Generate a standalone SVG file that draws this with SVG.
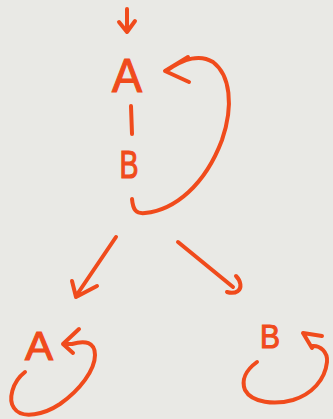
<svg xmlns="http://www.w3.org/2000/svg" width="333" height="419" viewBox="0 0 333 419">
<style>
.ink{fill:none;stroke:#f04b1c;stroke-width:4;stroke-linecap:round;stroke-linejoin:round}
.lbl{font-family:"Liberation Sans",Arial,sans-serif;fill:#f04b1c;stroke:#f04b1c;stroke-width:1.2;text-anchor:middle}
</style>
<rect width="333" height="419" fill="#e9e9e5"/>
<g id="connectors">
<path class="ink" d="M127,9 L127,31 M119,22 L127,32 L135,21"/>
<path class="ink" d="M131,106 L132,134"/>
<path class="ink" d="M132,199 C133,210 136,214 145,213 C175,210 205,185 222,140 C234,105 230,75 213,62 C200,54 185,58 166,71 M188,57 L165,71 L189,82"/>
<path class="ink" d="M116,237 L76,296 M72,281 L76,297 L97,286"/>
<path class="ink" d="M178,242 L233,287 M236,276 C241,281 242,288 238,291 C235,293 230,293 227,292"/>
<path class="ink" d="M25,372 C12,382 8,400 14,408 C22,420 45,414 60,404 C80,390 95,370 95,355 C95,342 85,340 72,344 L63,344 M79,329 L63,344 L73,353"/>
<path class="ink" d="M257,362 C246,370 241,380 245,390 C252,403 275,405 293,400 C312,394 325,380 327,362 C328,352 320,345 312,346 M322,336 L303,333 L312,348"/>
</g>
<g id="node-A-top"><text class="lbl" x="127" y="92" font-size="48" textLength="30" lengthAdjust="spacingAndGlyphs">A</text></g>
<g id="node-B-top"><text class="lbl" x="129" y="178" font-size="39" textLength="19" lengthAdjust="spacingAndGlyphs">B</text></g>
<g id="node-A-left"><text class="lbl" x="39" y="360" font-size="41" textLength="28" lengthAdjust="spacingAndGlyphs">A</text></g>
<g id="node-B-right"><text class="lbl" x="270" y="348" font-size="34" textLength="20" lengthAdjust="spacingAndGlyphs">B</text></g>
</svg>
